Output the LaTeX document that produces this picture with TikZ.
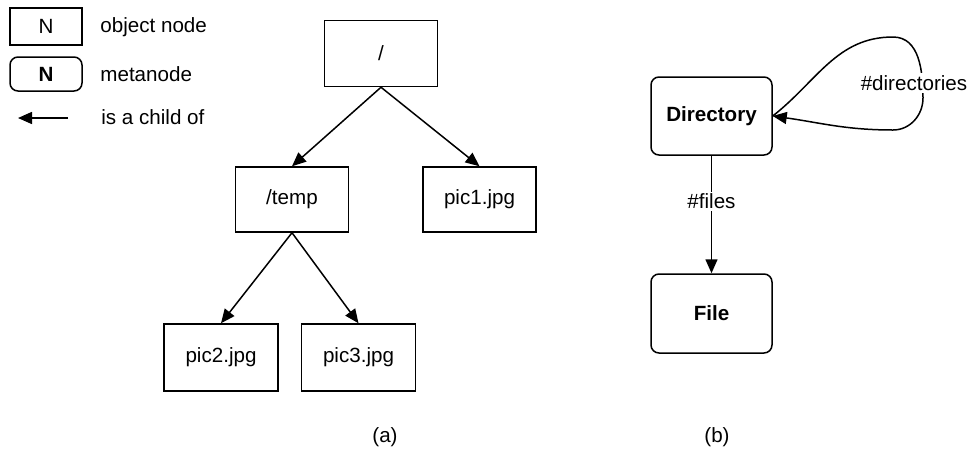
\documentclass[tikz,border=0pt]{standalone}
\usepackage{fontspec}
\setmainfont{Liberation Sans}
\usetikzlibrary{arrows.meta}
\begin{document}
\begin{tikzpicture}[x=0.5pt,y=-0.5pt,
  every node/.style={font=\fontsize{10.3}{12}\selectfont},
  objnode/.style={draw,line width=0.75pt,inner sep=0pt},
  metanode/.style={draw,line width=0.75pt,rounded corners=4pt,inner sep=0pt,font=\fontsize{10.3}{12}\selectfont\bfseries},
  childof/.style={line width=0.75pt,-{Triangle[length=7pt,width=6pt]}},
  lbl/.style={fill=white,inner sep=1pt},
  legendtext/.style={anchor=west,inner sep=0pt}]
\useasboundingbox (0,0) rectangle (975,451);
% legend
\node[objnode,minimum width=36pt,minimum height=18.5pt] (lgobj) at (46,26.5) {N};
\node[legendtext] (lgobjt) at (100,27) {object node};
\node[metanode,minimum width=36pt,minimum height=17pt] (lgmeta) at (46,74) {N};
\node[legendtext] (lgmetat) at (100,74) {metanode};
\coordinate (lga) at (68,118);
\coordinate (lgb) at (18,118);
\draw[childof] (lga) -- (lgb);
\node[legendtext] (lgarrt) at (101,117) {is a child of};
% (a) object tree
\node[objnode,minimum width=56.5pt,minimum height=33pt] (root) at (381,53.5) {/};
\node[objnode,minimum width=56.5pt,minimum height=32.5pt] (temp) at (292,199.5) {/temp};
\node[objnode,minimum width=56.5pt,minimum height=32.5pt] (pic1) at (479.5,199.5) {pic1.jpg};
\node[objnode,minimum width=57pt,minimum height=33.5pt] (pic2) at (221,357.5) {pic2.jpg};
\node[objnode,minimum width=57pt,minimum height=33.5pt] (pic3) at (358.5,357.5) {pic3.jpg};
\draw[childof] (root.south) -- (temp.north);
\draw[childof] (root.south) -- (pic1.north);
\draw[childof] (temp.south) -- (pic2.north);
\draw[childof] (temp.south) -- (pic3.north);
\node (capa) at (385,437) {(a)};
% (b) metanode graph
\node[metanode,minimum width=60.5pt,minimum height=39pt] (dir) at (711.5,116) {Directory};
\node[metanode,minimum width=60.5pt,minimum height=39.5pt] (file) at (711.5,313.5) {File};
\draw[childof] (dir.south) -- node[lbl,pos=0.39] (filesl) {\#files} (file.north);
\coordinate (lt) at (893,37);
\coordinate (lr) at (923,98);
\coordinate (lb) at (893,130);
\draw[childof] (dir.east) to[out=38,in=180] (lt) to[out=0,in=90] (lr)
  to[out=-90,in=0] (lb) to[out=180,in=-8] (dir.east);
\node[lbl] (dirsl) at (914,83) {\#directories};
\node (capb) at (717,437) {(b)};
\end{tikzpicture}
\end{document}
